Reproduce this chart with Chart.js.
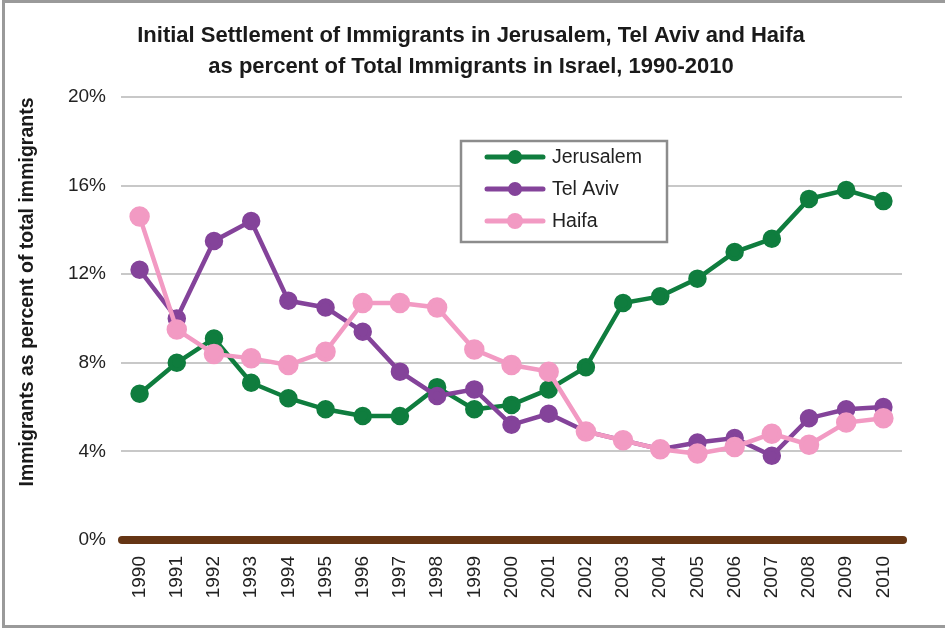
<!DOCTYPE html>
<html lang="en">
<head>
    <meta charset="UTF-8">
    <title>Initial Settlement of Immigrants</title>
    <script src="https://cdn.jsdelivr.net/npm/chart.js"></script>
    <style>
        body {
            margin: 0;
            background-color: #ffffff;
            font-family: "Liberation Sans", Arial, sans-serif;
        }

        .frame {
            position: absolute;
            left: 2px;
            top: 0;
            width: 950px;
            height: 628px;
            border: 3px solid #9a9a9a;
            border-right: none;
            box-sizing: border-box;
        }

        .chart-container {
            position: absolute;
            left: 0;
            top: 0;
            width: 945px;
            height: 631px;
        }

        canvas {
            display: block;
        }
    </style>
</head>
<body>
    <div class="frame"></div>
    <div class="chart-container">
        <canvas id="settlementChart"></canvas>
    </div>

    <script>
        const years = ['1990', '1991', '1992', '1993', '1994', '1995', '1996', '1997', '1998', '1999', '2000',
                       '2001', '2002', '2003', '2004', '2005', '2006', '2007', '2008', '2009', '2010'];
        const jerusalem = [6.6, 8.0, 9.1, 7.1, 6.4, 5.9, 5.6, 5.6, 6.9, 5.9, 6.1,
                           6.8, 7.8, 10.7, 11.0, 11.8, 13.0, 13.6, 15.4, 15.8, 15.3];
        const telAviv = [12.2, 10.0, 13.5, 14.4, 10.8, 10.5, 9.4, 7.6, 6.5, 6.8, 5.2,
                         5.7, 4.9, 4.5, 4.1, 4.4, 4.6, 3.8, 5.5, 5.9, 6.0];
        const haifa = [14.6, 9.5, 8.4, 8.2, 7.9, 8.5, 10.7, 10.7, 10.5, 8.6, 7.9,
                       7.6, 4.9, 4.5, 4.1, 3.9, 4.2, 4.8, 4.3, 5.3, 5.5];
        const yTicks = [0, 4, 8, 12, 16, 20];

        const titleLines = ['Initial Settlement of Immigrants in Jerusalem, Tel Aviv and Haifa',
                            'as percent of Total Immigrants in Israel, 1990-2010'];
        const yTitle = 'Immigrants as percent of total immigrants';

        // title and y title drawn by hand so they sit where the reference has them
        const titlePlugin = {
            id: 'titleLines',
            afterDraw(chart) {
                const ctx = chart.ctx;
                ctx.save();
                ctx.fillStyle = '#1a1a1a';
                ctx.font = 'bold 22px "Liberation Sans", Arial, sans-serif';
                ctx.textAlign = 'center';
                ctx.textBaseline = 'middle';
                ctx.fillText(titleLines[0], 471, 36);
                ctx.fillText(titleLines[1], 471, 67);

                ctx.translate(28, 292);
                ctx.rotate(-Math.PI / 2);
                ctx.font = 'bold 19.5px "Liberation Sans", Arial, sans-serif';
                ctx.fillText(yTitle, 0, 0);
                ctx.restore();
            }
        };

        // thick brown zero line with round ends
        const baselinePlugin = {
            id: 'baseline',
            beforeDatasetsDraw(chart) {
                const ctx = chart.ctx;
                const y = chart.scales.y.getPixelForValue(0);
                ctx.save();
                ctx.strokeStyle = '#653514';
                ctx.lineWidth = 8;
                ctx.lineCap = 'round';
                ctx.beginPath();
                ctx.moveTo(chart.chartArea.left + 1, y);
                ctx.lineTo(chart.chartArea.right + 1, y);
                ctx.stroke();
                ctx.restore();
            }
        };

        // boxed legend inside the plot
        const legendPlugin = {
            id: 'boxLegend',
            beforeDatasetsDraw(chart) {
                const ctx = chart.ctx;
                const box = { x: 461, y: 141, w: 206, h: 101 };
                ctx.save();
                ctx.fillStyle = '#ffffff';
                ctx.fillRect(box.x, box.y, box.w, box.h);
                ctx.strokeStyle = '#8c8c8c';
                ctx.lineWidth = 2.5;
                ctx.strokeRect(box.x, box.y, box.w, box.h);
                ctx.font = '19.5px "Liberation Sans", Arial, sans-serif';
                ctx.textBaseline = 'middle';
                chart.data.datasets.forEach((ds, i) => {
                    const ry = 157 + i * 32;
                    ctx.strokeStyle = ds.borderColor;
                    ctx.lineWidth = 5;
                    ctx.lineCap = 'round';
                    ctx.beginPath();
                    ctx.moveTo(487, ry);
                    ctx.lineTo(543, ry);
                    ctx.stroke();
                    ctx.fillStyle = ds.borderColor;
                    ctx.beginPath();
                    ctx.arc(515, ry, ds.pointRadius, 0, Math.PI * 2);
                    ctx.fill();
                    ctx.fillStyle = '#222222';
                    ctx.fillText(ds.label, 552, ry + 1);
                });
                ctx.restore();
            }
        };

        const ctx = document.getElementById('settlementChart').getContext('2d');

        const settlementChart = new Chart(ctx, {
            type: 'line',
            data: {
                labels: years,
                datasets: [
                    { label: 'Jerusalem', data: jerusalem, borderColor: '#0f7d3e', backgroundColor: '#0f7d3e',
                      borderWidth: 4.5, pointRadius: 7, pointHoverRadius: 7, fill: false, order: 2 },
                    { label: 'Tel Aviv', data: telAviv, borderColor: '#84439a', backgroundColor: '#84439a',
                      borderWidth: 4.5, pointRadius: 7, pointHoverRadius: 7, fill: false, order: 1 },
                    { label: 'Haifa', data: haifa, borderColor: '#f29ac3', backgroundColor: '#f29ac3',
                      borderWidth: 4.5, pointRadius: 8, pointHoverRadius: 8, fill: false, order: 0 },
                ],
            },
            options: {
                responsive: true,
                maintainAspectRatio: false,
                animation: false,
                layout: { padding: { left: 12, right: 43, top: 97, bottom: 0 } },
                elements: { line: { tension: 0 }, point: { borderWidth: 0 } },
                scales: {
                    x: {
                        offset: true,
                        grid: { display: false, drawTicks: false },
                        border: { display: false },
                        ticks: {
                            color: '#222222',
                            font: { size: 19, family: '"Liberation Sans", Arial, sans-serif' },
                            maxRotation: 90,
                            minRotation: 90,
                            padding: 16,
                            autoSkip: false,
                        },
                        afterFit(scale) { scale.height = 91; },
                    },
                    y: {
                        min: 0,
                        max: 20,
                        afterBuildTicks(scale) { scale.ticks = yTicks.map(v => ({ value: v })); },
                        grid: {
                            drawTicks: false,
                            color: (c) => c.tick && c.tick.value === 0 ? 'rgba(0,0,0,0)' : '#c8c8c8',
                            lineWidth: 2,
                        },
                        border: { display: false },
                        ticks: {
                            color: '#222222',
                            font: { size: 19, family: '"Liberation Sans", Arial, sans-serif' },
                            padding: 15,
                            callback: (v) => v + '%',
                        },
                        afterFit(scale) { scale.width = 109; },
                    },
                },
                plugins: {
                    legend: { display: false },
                    tooltip: { enabled: false },
                },
            },
            plugins: [titlePlugin, baselinePlugin, legendPlugin],
        });
    </script>
</body>
</html>
